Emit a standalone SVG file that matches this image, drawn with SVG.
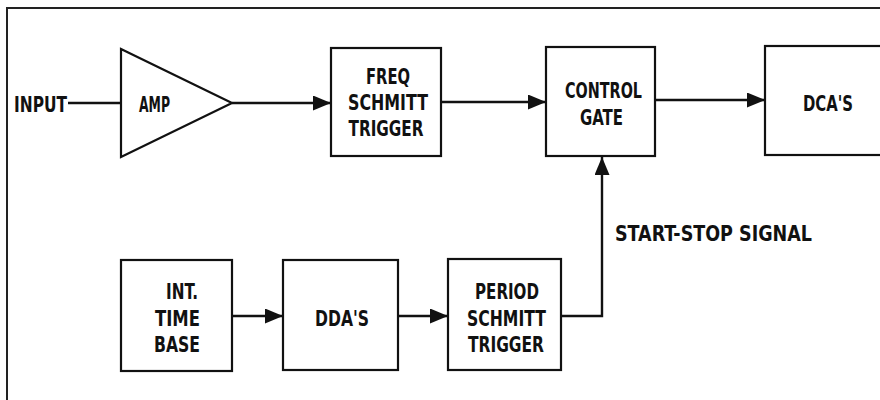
<svg xmlns="http://www.w3.org/2000/svg" width="880" height="400" viewBox="0 0 880 400">
<style>
.box{fill:#fff;stroke:#111;stroke-width:2.2}
.ln{fill:none;stroke:#111;stroke-width:2.4}
.frame{fill:none;stroke:#222;stroke-width:2}
text{font-family:"DejaVu Sans Condensed","DejaVu Sans",sans-serif;font-weight:bold;font-size:22px;fill:#111;text-anchor:middle}
</style>
<defs>
<marker id="ah" markerUnits="userSpaceOnUse" markerWidth="18" markerHeight="15" refX="18" refY="7.5" orient="auto">
<path d="M0,0 L18,7.5 L0,15 z" fill="#111"/>
</marker>
</defs>
<g id="frame">
<path class="frame" d="M7,400 L7,8 L880,8"/>
</g>
<g id="connectors">
<path class="ln" d="M68,103 L121,103"/>
<path class="ln" d="M232,103 L331,103" marker-end="url(#ah)"/>
<path class="ln" d="M441,102 L546,102" marker-end="url(#ah)"/>
<path class="ln" d="M655,100 L765,100" marker-end="url(#ah)"/>
<path class="ln" d="M232,316 L283,316" marker-end="url(#ah)"/>
<path class="ln" d="M398,316 L448,316" marker-end="url(#ah)"/>
<path class="ln" d="M561,316 L602,316 L602,157" marker-end="url(#ah)"/>
</g>
<g id="input">
<text x="40.5" y="112" textLength="53" lengthAdjust="spacingAndGlyphs">INPUT</text>
</g>
<g id="amp">
<path class="box" d="M121,49 L232,103 L121,157 Z"/>
<text x="154.5" y="112" textLength="31" lengthAdjust="spacingAndGlyphs">AMP</text>
</g>
<g id="freq">
<rect class="box" x="331" y="48" width="110" height="108"/>
<text x="388" y="84" textLength="44" lengthAdjust="spacingAndGlyphs">FREQ</text>
<text x="388" y="110" textLength="80" lengthAdjust="spacingAndGlyphs">SCHMITT</text>
<text x="386" y="136" textLength="75" lengthAdjust="spacingAndGlyphs">TRIGGER</text>
</g>
<g id="control">
<rect class="box" x="546" y="47" width="109" height="109"/>
<text x="603.5" y="98" textLength="77" lengthAdjust="spacingAndGlyphs">CONTROL</text>
<text x="601.5" y="125" textLength="43" lengthAdjust="spacingAndGlyphs">GATE</text>
</g>
<g id="dcas">
<rect class="box" x="765" y="46" width="125" height="109"/>
<text x="828" y="111" textLength="50" lengthAdjust="spacingAndGlyphs">DCA'S</text>
</g>
<g id="timebase">
<rect class="box" x="121" y="260" width="111" height="111"/>
<text x="182" y="299" textLength="32" lengthAdjust="spacingAndGlyphs">INT.</text>
<text x="177.5" y="326" textLength="45" lengthAdjust="spacingAndGlyphs">TIME</text>
<text x="177" y="352" textLength="46" lengthAdjust="spacingAndGlyphs">BASE</text>
</g>
<g id="ddas">
<rect class="box" x="283" y="260" width="115" height="110"/>
<text x="342" y="326" textLength="54" lengthAdjust="spacingAndGlyphs">DDA'S</text>
</g>
<g id="period">
<rect class="box" x="448" y="259" width="113" height="111"/>
<text x="507" y="299" textLength="64" lengthAdjust="spacingAndGlyphs">PERIOD</text>
<text x="506.5" y="326" textLength="79" lengthAdjust="spacingAndGlyphs">SCHMITT</text>
<text x="506" y="352" textLength="76" lengthAdjust="spacingAndGlyphs">TRIGGER</text>
</g>
<g id="signal-label">
<text x="713.5" y="241" textLength="197" lengthAdjust="spacingAndGlyphs">START-STOP SIGNAL</text>
</g>
</svg>
